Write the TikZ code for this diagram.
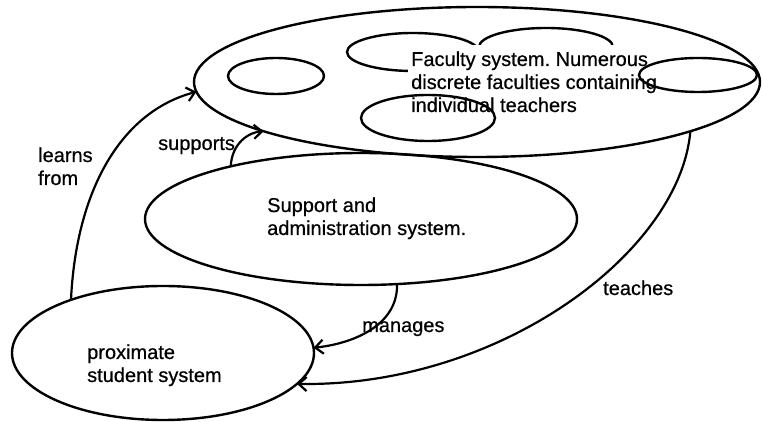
\documentclass[tikz,border=0pt]{standalone}
\usepackage{fontspec}
\setmainfont{Liberation Sans}[FakeBold=0.6]
\frenchspacing
\usetikzlibrary{shapes.geometric,arrows.meta}
\begin{document}
\begin{tikzpicture}[x=1pt,y=1pt,
  sys/.style={draw, ellipse, line width=2.4pt, inner sep=0pt, outer sep=0pt},
  lbl/.style={inner sep=0pt, anchor=base west, font=\fontsize{20}{23}\selectfont},
  multi/.style={lbl, align=left},
  flow/.style={line width=2.2pt, -{Straight Barb[length=8pt,width=14pt,line width=2.2pt]}},
]
\useasboundingbox (0,0) rectangle (762,422);
% faculty system
\node[sys, minimum width=566pt, minimum height=150pt] (fac) at (477,340) {};
\node[sys, minimum width=96pt, minimum height=36pt] (fsa) at (276,346) {};
\node[sys, minimum width=132pt, minimum height=38pt] (fsb) at (413,370) {};
\node[sys, minimum width=134pt, minimum height=38pt] (fsc) at (546,375) {};
\node[multi, fill=white, inner xsep=3pt, inner ysep=6pt] (ftxt) at (408,310)
  {Faculty system. Numerous\\discrete faculties containing\\individual teachers};
\node[sys, minimum width=118pt, minimum height=34pt] (fsd) at (698,347) {};
\node[sys, minimum width=134pt, minimum height=46pt] (fse) at (428,304) {};
% support system
\node[sys, minimum width=432pt, minimum height=132pt] (sup) at (361,203) {};
\node[multi] (suptxt) at (267,187) {Support and\\administration system.};
% student system
\node[sys, minimum width=302pt, minimum height=134pt] (stud) at (163,69) {};
\node[multi] (studtxt) at (87,40) {proximate\\student system};
% connectors
\draw[flow] (stud.150) .. controls (76,230) and (120,310) .. (fac.182);
\draw[flow] (sup.158) .. controls (232,280) and (250,290) .. (fac.193.7);
\draw[flow] (sup.-61.4) .. controls (398,95) and (350,78) .. (stud.2);
\draw[flow] (fac.-13.45) .. controls (680,170) and (500,35) .. (stud.-13);
% labels
\node[multi] (llearn) at (38,237) {learns\\from};
\node[lbl] (lsupp) at (158,272) {supports};
\node[lbl] (lman) at (362,90) {manages};
\node[lbl] (lteach) at (603,127) {teaches};
\end{tikzpicture}
\end{document}
